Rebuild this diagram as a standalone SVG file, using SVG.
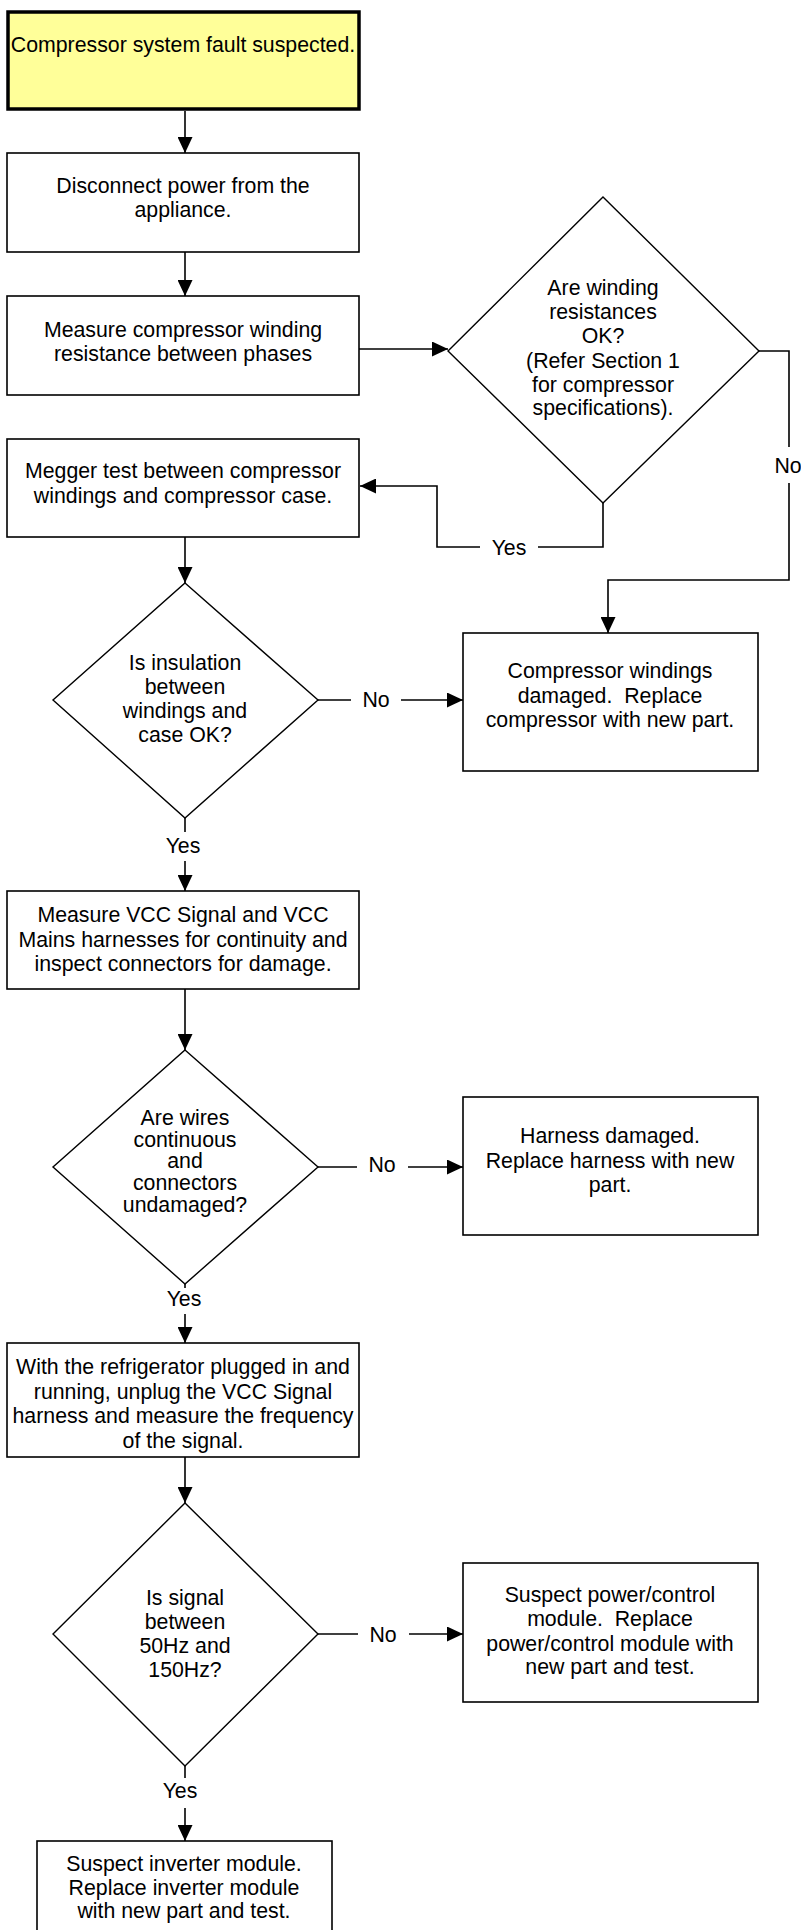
<svg xmlns="http://www.w3.org/2000/svg" width="801" height="1930" viewBox="0 0 801 1930">
<style>
text{font-family:"Liberation Sans",Arial,sans-serif;font-size:21.3px;fill:#000;text-anchor:middle}
.pre{white-space:pre}
.box{fill:#fff;stroke:#000;stroke-width:1.6}
.start{fill:#ffff99;stroke:#000;stroke-width:3.5}
.dia{fill:#fff;stroke:#000;stroke-width:1.4}
.c{fill:none;stroke:#000;stroke-width:1.6}
.a{marker-end:url(#ah)}
</style>
<defs>
<marker id="ah" markerUnits="userSpaceOnUse" markerWidth="16" markerHeight="15" refX="16" refY="7.5" orient="auto">
<path d="M0,0 L16,7.5 L0,15 Z" fill="#000"/>
</marker>
</defs>
<rect width="801" height="1930" fill="#fff"/>

<g id="connectors">
<path class="c a" d="M185,111 V153"/>
<path class="c a" d="M185,252 V296"/>
<path class="c a" d="M359,349 H448"/>
<path class="c" d="M603,503 V547 H538"/>
<path class="c a" d="M480,547 H437 V486 H360"/>
<text x="509" y="555">Yes</text>
<path class="c" d="M759,351 H789 V447"/>
<path class="c a" d="M789,483 V580 H608 V633"/>
<text x="788" y="473">No</text>
<path class="c a" d="M185,537 V583"/>
<path class="c" d="M318,700 H351"/>
<text x="376" y="707">No</text>
<path class="c a" d="M401,700 H463"/>
<path class="c" d="M185,818 V832"/>
<text x="183" y="853">Yes</text>
<path class="c a" d="M185,861 V891"/>
<path class="c a" d="M185,989 V1050"/>
<path class="c" d="M318,1167 H357"/>
<text x="382" y="1172">No</text>
<path class="c a" d="M408,1167 H463"/>
<path class="c" d="M185,1284 V1288"/>
<text x="184" y="1306">Yes</text>
<path class="c a" d="M185,1314 V1343"/>
<path class="c a" d="M185,1457 V1503"/>
<path class="c" d="M318,1634 H358"/>
<text x="383" y="1642">No</text>
<path class="c a" d="M409,1634 H463"/>
<path class="c" d="M185,1766 V1778"/>
<text x="180" y="1798">Yes</text>
<path class="c a" d="M185,1808 V1841"/>
</g>

<g id="start">
<rect class="start" x="8" y="12" width="351" height="97"/>
<text x="183" y="52">Compressor system fault suspected.</text>
</g>

<g id="disconnect">
<rect class="box" x="7" y="153" width="352" height="99"/>
<text x="183" y="193">Disconnect power from the</text>
<text x="183" y="217">appliance.</text>
</g>

<g id="measure-winding">
<rect class="box" x="7" y="296" width="352" height="99"/>
<text x="183" y="337">Measure compressor winding</text>
<text x="183" y="361">resistance between phases</text>
</g>

<g id="winding-ok">
<polygon class="dia" points="603,197 759,351 603,503 448,351"/>
<text x="603" y="295">Are winding</text>
<text x="603" y="319">resistances</text>
<text x="603" y="343">OK?</text>
<text x="603" y="368">(Refer Section 1</text>
<text x="603" y="392">for compressor</text>
<text x="603" y="415">specifications).</text>
</g>

<g id="megger">
<rect class="box" x="7" y="439" width="352" height="98"/>
<text x="183" y="478">Megger test between compressor</text>
<text x="183" y="503">windings and compressor case.</text>
</g>

<g id="insulation-ok">
<polygon class="dia" points="185,583 318,700 185,818 53,700"/>
<text x="185" y="670">Is insulation</text>
<text x="185" y="694">between</text>
<text x="185" y="718">windings and</text>
<text x="185" y="742">case OK?</text>
</g>

<g id="windings-damaged">
<rect class="box" x="463" y="633" width="295" height="138"/>
<text x="610" y="678">Compressor windings</text>
<text class="pre" xml:space="preserve" x="610" y="703">damaged.  Replace</text>
<text x="610" y="727">compressor with new part.</text>
</g>

<g id="measure-vcc">
<rect class="box" x="7" y="891" width="352" height="98"/>
<text x="183" y="922">Measure VCC Signal and VCC</text>
<text x="183" y="947">Mains harnesses for continuity and</text>
<text x="183" y="971">inspect connectors for damage.</text>
</g>

<g id="wires-ok">
<polygon class="dia" points="185,1050 318,1167 185,1284 53,1167"/>
<text x="185" y="1125">Are wires</text>
<text x="185" y="1147">continuous</text>
<text x="185" y="1168">and</text>
<text x="185" y="1190">connectors</text>
<text x="185" y="1212">undamaged?</text>
</g>

<g id="harness-damaged">
<rect class="box" x="463" y="1097" width="295" height="138"/>
<text x="610" y="1143">Harness damaged.</text>
<text x="610" y="1168">Replace harness with new</text>
<text x="610" y="1192">part.</text>
</g>

<g id="measure-frequency">
<rect class="box" x="7" y="1343" width="352" height="114"/>
<text x="183" y="1374">With the refrigerator plugged in and</text>
<text x="183" y="1399">running, unplug the VCC Signal</text>
<text x="183" y="1423">harness and measure the frequency</text>
<text x="183" y="1448">of the signal.</text>
</g>

<g id="signal-ok">
<polygon class="dia" points="185,1503 318,1634 185,1766 53,1634"/>
<text x="185" y="1605">Is signal</text>
<text x="185" y="1629">between</text>
<text x="185" y="1653">50Hz and</text>
<text x="185" y="1677">150Hz?</text>
</g>

<g id="power-control">
<rect class="box" x="463" y="1563" width="295" height="139"/>
<text x="610" y="1602">Suspect power/control</text>
<text class="pre" xml:space="preserve" x="610" y="1626">module.  Replace</text>
<text x="610" y="1651">power/control module with</text>
<text x="610" y="1674">new part and test.</text>
</g>

<g id="inverter">
<rect class="box" x="37" y="1841" width="295" height="100"/>
<text x="184" y="1871">Suspect inverter module.</text>
<text x="184" y="1895">Replace inverter module</text>
<text x="184" y="1918">with new part and test.</text>
</g>
</svg>
